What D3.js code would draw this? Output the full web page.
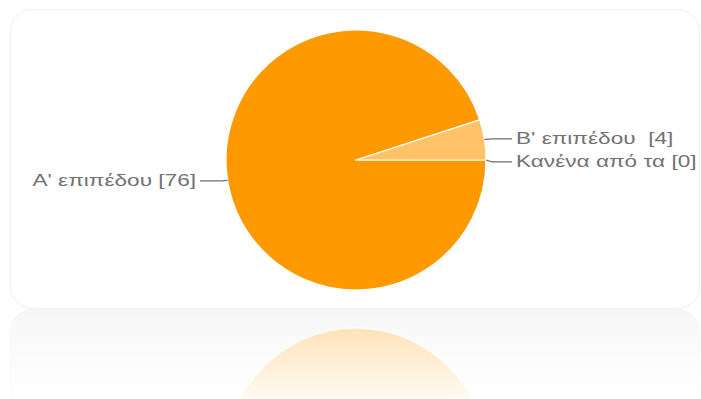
<!DOCTYPE html>
<html>
<head>
<meta charset="utf-8">
<script src="https://cdn.jsdelivr.net/npm/d3@7"></script>
<style>
  html, body { margin: 0; padding: 0; background: #fff; }
  svg { display: block; }
</style>
</head>
<body>
<svg id="chart" width="701" height="399"></svg>
<script>
// Responses per level
const categories = ["A' επιπέδου", "B' επιπέδου ", "Κανένα από τα"];
const counts = [76, 4, 0];
const colors = ["#FF9900", "#FFC266", "#FFD9A0"];

const W = 701, H = 399;
const svg = d3.select("#chart");
const defs = svg.append("defs");

// card geometry
const card = { x: 10.5, y: 9.5, w: 689, h: 299, r: 22 };
const cx = 356, cy = 160, R = 130;
const mirrorY = card.y + card.h + 0.5;

// reflection fade (mask in page coordinates)
const fade = defs.append("linearGradient").attr("id", "fade")
  .attr("gradientUnits", "userSpaceOnUse")
  .attr("x1", 0).attr("y1", mirrorY).attr("x2", 0).attr("y2", H);
fade.append("stop").attr("offset", 0).attr("stop-color", "#fff").attr("stop-opacity", 0.34);
fade.append("stop").attr("offset", 1).attr("stop-color", "#fff").attr("stop-opacity", 0.05);
defs.append("mask").attr("id", "reflMask")
  .attr("maskUnits", "userSpaceOnUse")
  .attr("maskContentUnits", "userSpaceOnUse")
  .attr("x", 0).attr("y", mirrorY).attr("width", W).attr("height", H - mirrorY)
  .append("rect").attr("x", 0).attr("y", mirrorY).attr("width", W).attr("height", H - mirrorY)
  .attr("fill", "url(#fade)");

// faint tint for the reflected card
const bgFlip = defs.append("linearGradient").attr("id", "bgFadeFlip")
  .attr("gradientUnits", "userSpaceOnUse")
  .attr("x1", 0).attr("y1", card.y + card.h).attr("x2", 0).attr("y2", card.y + card.h - 90);
bgFlip.append("stop").attr("offset", 0).attr("stop-color", "#e6e6e6");
bgFlip.append("stop").attr("offset", 1).attr("stop-color", "#f2f2f2");

const pie = d3.pie().sort(null)
  .startAngle(Math.PI / 2).endAngle(Math.PI / 2 + 2 * Math.PI);
const arcs = pie(counts);
const arc = d3.arc().innerRadius(0).outerRadius(R);

function drawCard(g, fill, stroke) {
  g.append("rect")
    .attr("x", card.x).attr("y", card.y).attr("width", card.w).attr("height", card.h)
    .attr("rx", card.r).attr("ry", card.r)
    .attr("fill", fill).attr("stroke", stroke).attr("stroke-width", 1);
}

function drawPie(g) {
  const pg = g.append("g").attr("transform", `translate(${cx},${cy})`);
  pg.selectAll("path.slice").data(arcs.filter(d => d.value > 0)).join("path")
    .attr("class", "slice")
    .attr("d", arc)
    .attr("fill", d => colors[d.index])
    .attr("stroke", "#fff").attr("stroke-width", 1.2).attr("stroke-linejoin", "round");
  return pg;
}

// reflection below the card
const refl = svg.append("g").attr("mask", "url(#reflMask)")
  .append("g").attr("transform", `translate(0,${2 * mirrorY}) scale(1,-1)`);
drawCard(refl, "url(#bgFadeFlip)", "#e0e0e0");
drawPie(refl);

// main card and pie
const main = svg.append("g");
drawCard(main, "#fff", "#efefef");
const pg = drawPie(main);

// leader lines and labels
const lineColor = "#6e6e6e", textColor = "#727272";
const labels = arcs.map(d => {
  const a = (d.startAngle + d.endAngle) / 2;
  const px = Math.sin(a) * R, py = -Math.cos(a) * R;
  return { d, a, px, py, right: Math.sin(a) >= 0, y: py };
});
// spread labels on the same side so they do not overlap
const gap = 23;
["r", "l"].forEach(side => {
  const grp = labels.filter(l => (side === "r") === l.right).sort((a, b) => a.y - b.y);
  for (let k = 1; k < grp.length; k++) {
    const over = gap - (grp[k].y - grp[k - 1].y);
    if (over > 0) { grp[k - 1].y -= over / 2; grp[k].y += over / 2; }
  }
});

labels.forEach(l => {
  const dir = l.right ? 1 : -1;
  const bendX = l.px + dir * 6;
  const endX = l.right ? 156 : -156;
  pg.append("path")
    .attr("d", d3.line()([[l.px, l.py], [bendX, l.y + 0.5], [endX, l.y + 0.5]]))
    .attr("fill", "none").attr("stroke", lineColor).attr("stroke-width", 1.2);
  pg.append("text")
    .attr("transform", `translate(${endX + dir * 4},${l.y}) scale(1.33,1)`)
    .attr("dy", "0.36em")
    .attr("text-anchor", l.right ? "start" : "end")
    .attr("font-family", "'Liberation Sans', Arial, sans-serif")
    .attr("font-size", 17)
    .attr("fill", textColor)
    .style("white-space", "pre")
    .text(`${categories[l.d.index]} [${l.d.value}]`);
});
</script>
</body>
</html>
